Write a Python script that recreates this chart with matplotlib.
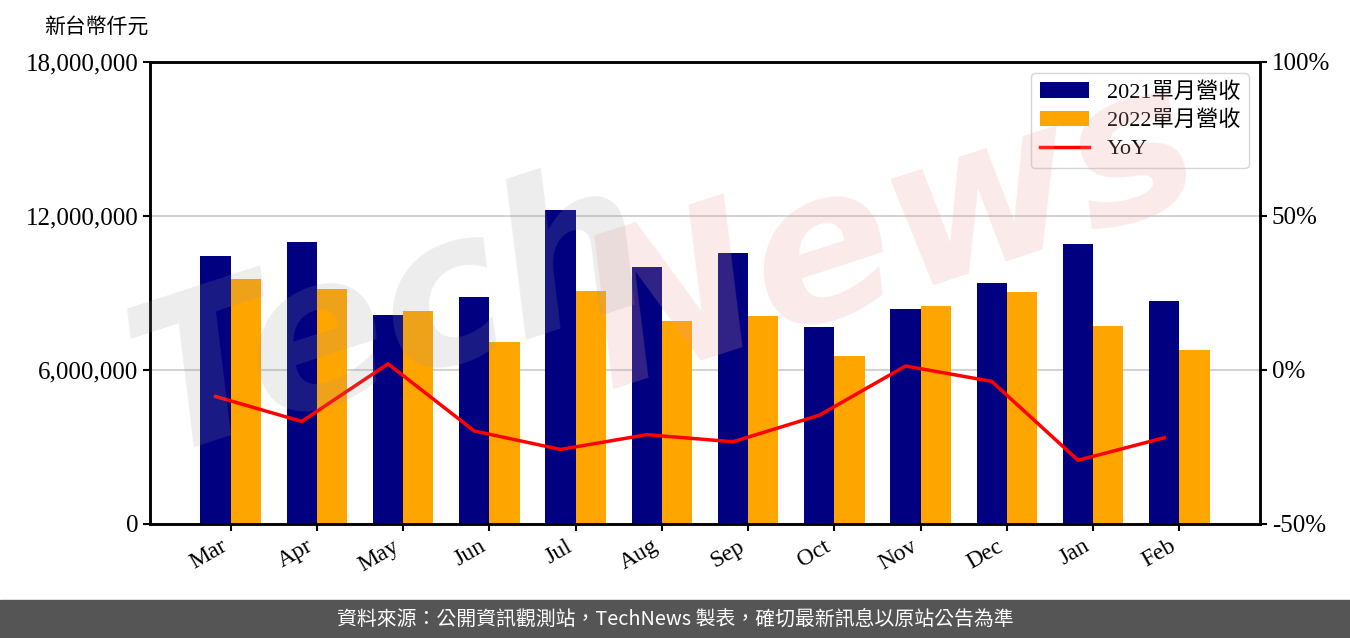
import matplotlib.pyplot as plt
import numpy as np
from matplotlib.ticker import FuncFormatter

# 資料
months = ['Mar', 'Apr', 'May', 'Jun', 'Jul', 'Aug', 'Sep', 'Oct', 'Nov', 'Dec', 'Jan', 'Feb']
rev_2021 = [10440000, 10990000, 8140000, 8840000, 12230000, 10010000,
            10560000, 7670000, 8380000, 9390000, 10910000, 8690000]
rev_2022 = [9540000, 9150000, 8300000, 7090000, 9080000, 7910000,
            8100000, 6540000, 8490000, 9040000, 7710000, 6780000]
yoy = [-8.6, -16.7, 2.0, -19.8, -25.8, -21.0, -23.3, -14.7, 1.3, -3.7, -29.3, -22.0]

plt.rcParams['font.family'] = ['Liberation Serif', 'Noto Sans CJK TC']
plt.rcParams['font.size'] = 16

fig = plt.figure(figsize=(13.5, 6.38), dpi=100)
ax = fig.add_axes([150 / 1350, 1 - 524 / 638, 1110 / 1350, 462 / 638])

x = np.arange(len(months))
w = 0.35
ax.bar(x - w / 2, rev_2021, w, color='#000080', label='2021單月營收', zorder=2)
ax.bar(x + w / 2, rev_2022, w, color='#ffa500', label='2022單月營收', zorder=2)

ax.set_ylim(0, 18000000)
ax.set_yticks([0, 6000000, 12000000, 18000000])
ax.yaxis.set_major_formatter(FuncFormatter(lambda v, p: '{:,.0f}'.format(v)))
ax.grid(axis='y', color='#d3d3d3', linewidth=1.5, zorder=0)
ax.set_xticks(x)
ax.set_xticklabels(months, rotation=30, ha='right')
ax.tick_params(length=5, width=1.5)
ax.tick_params(axis='y', labelsize=18)
ax.tick_params(axis='x', labelsize=17)

ax2 = ax.twinx()
ax2.plot(x - w / 2, yoy, color='red', linewidth=2.5, label='YoY', zorder=5)
ax2.set_ylim(-50, 100)
ax2.set_yticks([-50, 0, 50, 100])
ax2.yaxis.set_major_formatter(FuncFormatter(lambda v, p: '{:.0f}%'.format(v)))
ax2.tick_params(length=5, width=1.5, labelsize=18)

for a in (ax, ax2):
    for s in a.spines.values():
        s.set_linewidth(1.8)

h1, l1 = ax.get_legend_handles_labels()
h2, l2 = ax2.get_legend_handles_labels()
ax2.legend(h1 + h2, l1 + l2, loc='upper right', fontsize=16, edgecolor='#cccccc',
           handlelength=2.2, borderpad=0.4, labelspacing=0.35)

# 浮水印
fig.text(0.29, 0.50, 'Tech', fontsize=150, fontweight='bold', fontstyle='italic',
         family='DejaVu Sans', color='#999999', alpha=0.18, rotation=18,
         ha='center', va='center', zorder=3)
fig.text(0.66, 0.63, 'News', fontsize=150, fontweight='bold', fontstyle='italic',
         family='DejaVu Sans', color='#e8a0a0', alpha=0.22, rotation=18,
         ha='center', va='center', zorder=3)

fig.text(44 / 1350, 1 - 27 / 638, '新台幣仟元', fontsize=15, va='center',
         family=['Noto Sans CJK TC'])

# 頁尾
fig.patches.append(plt.Rectangle((0, 0), 1, 38 / 638, transform=fig.transFigure,
                                 color='#555555', zorder=0))
fig.text(0.5, 19 / 638, '資料來源：公開資訊觀測站，TechNews 製表，確切最新訊息以原站公告為準',
         color='white', fontsize=14.3, ha='center', va='center',
         family=['Noto Sans CJK TC', 'DejaVu Sans'])

plt.savefig('out.png')
